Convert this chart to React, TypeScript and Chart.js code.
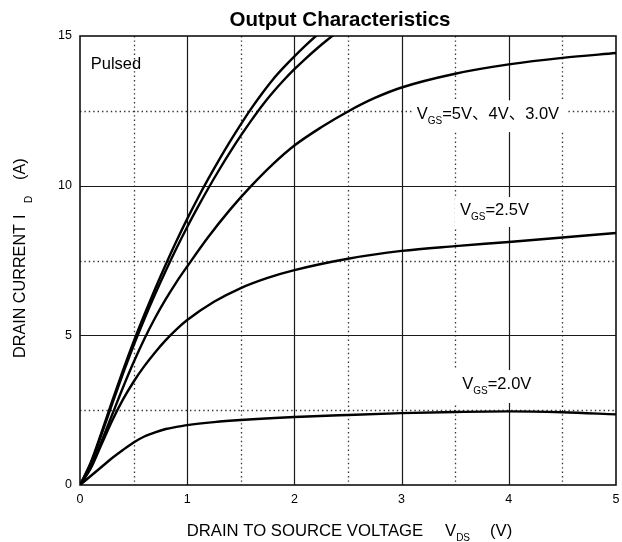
import { useEffect, useRef } from "react";
import { Chart, registerables } from "chart.js";

Chart.register(...registerables);

const FONT = "'Liberation Sans', Arial, 'Noto Sans CJK SC', sans-serif";

// VGS = 5V
const vds5V = [0, 0.1, 0.2, 0.3, 0.4, 0.5, 0.6, 0.7, 0.8, 0.9, 1.0, 1.1, 1.2, 1.3, 1.4, 1.5, 1.6, 1.7, 1.8, 1.9, 2.0, 2.1, 2.2, 2.3];
const id5V = [0, 0.75, 1.75, 2.8, 3.82, 4.79, 5.69, 6.55, 7.37, 8.15, 8.89, 9.59, 10.25, 10.88, 11.48, 12.05, 12.59, 13.09, 13.55, 13.95, 14.32, 14.67, 15.0, 15.31];
// VGS = 4V
const vds4V = [0, 0.1, 0.2, 0.3, 0.4, 0.5, 0.6, 0.7, 0.8, 0.9, 1.0, 1.1, 1.2, 1.3, 1.4, 1.5, 1.6, 1.7, 1.8, 1.9, 2.0, 2.1, 2.2, 2.3, 2.4];
const id4V = [0, 0.7, 1.68, 2.71, 3.71, 4.66, 5.54, 6.37, 7.16, 7.91, 8.62, 9.29, 9.93, 10.54, 11.12, 11.67, 12.19, 12.68, 13.12, 13.52, 13.89, 14.23, 14.55, 14.85, 15.13];
// VGS = 3.0V
const vds3V = [0, 0.1, 0.2, 0.3, 0.4, 0.5, 0.6, 0.7, 0.8, 0.9, 1.0, 1.2, 1.4, 1.6, 1.8, 2.0, 2.25, 2.5, 2.75, 3.0, 3.5, 4.0, 4.5, 5.0];
const id3V = [0, 0.6, 1.45, 2.35, 3.25, 4.1, 4.88, 5.58, 6.21, 6.78, 7.3, 8.3, 9.2, 10.0, 10.72, 11.34, 11.95, 12.48, 12.93, 13.28, 13.74, 14.05, 14.27, 14.43];
// VGS = 2.5V
const vds25V = [0, 0.1, 0.2, 0.3, 0.4, 0.5, 0.6, 0.7, 0.8, 0.9, 1.0, 1.25, 1.5, 1.75, 2.0, 2.5, 3.0, 3.5, 4.0, 4.5, 5.0];
const id25V = [0, 0.55, 1.35, 2.15, 2.85, 3.45, 3.97, 4.43, 4.84, 5.2, 5.51, 6.12, 6.58, 6.92, 7.18, 7.56, 7.82, 7.98, 8.12, 8.27, 8.42];
// VGS = 2.0V
const vds2V = [0, 0.1, 0.2, 0.3, 0.4, 0.5, 0.6, 0.7, 0.8, 0.9, 1.0, 1.25, 1.5, 2.0, 2.5, 3.0, 3.5, 4.0, 4.5, 5.0];
const id2V = [0, 0.3, 0.6, 0.9, 1.17, 1.42, 1.62, 1.76, 1.87, 1.94, 2.0, 2.1, 2.17, 2.27, 2.34, 2.4, 2.44, 2.46, 2.43, 2.36];

const xMajorGrid = [1, 2, 3, 4];
const xMinorGrid = [0.5, 1.5, 2.5, 3.5, 4.5];
const yMajorGrid = [5, 10];
const yMinorGrid = [2.5, 7.5, 12.5];

const TITLE = "Output Characteristics";
const NOTE = "Pulsed";

type Part = { t: string; sub?: boolean };

function drawRich(ctx: CanvasRenderingContext2D, x: number, y: number, parts: Part[], size: number, subSize: number, subDy: number) {
  let cx = x;
  ctx.textBaseline = "alphabetic";
  ctx.textAlign = "left";
  for (const p of parts) {
    if (p.sub) {
      ctx.font = `${subSize}px ${FONT}`;
      ctx.fillText(p.t, cx, y + subDy);
      cx += ctx.measureText(p.t).width;
    } else {
      ctx.font = `${size}px ${FONT}`;
      ctx.fillText(p.t, cx, y);
      cx += ctx.measureText(p.t).width;
    }
  }
}

const decor = {
  id: "decor",
  beforeDatasetsDraw(chart: any) {
    const { ctx, chartArea: a, scales } = chart;
    const xs = scales.x, ys = scales.y;
    ctx.save();
    // minor dotted grid
    ctx.strokeStyle = "#333";
    ctx.lineWidth = 1.3;
    ctx.setLineDash([1.4, 3]);
    ctx.beginPath();
    for (const v of xMinorGrid) {
      const px = Math.round(xs.getPixelForValue(v)) + 0.5;
      ctx.moveTo(px, a.top);
      ctx.lineTo(px, a.bottom);
    }
    for (const v of yMinorGrid) {
      const py = Math.round(ys.getPixelForValue(v)) + 0.5;
      ctx.moveTo(a.left, py);
      ctx.lineTo(a.right, py);
    }
    ctx.stroke();
    // major solid grid
    ctx.setLineDash([]);
    ctx.strokeStyle = "#1a1a1a";
    ctx.lineWidth = 1.2;
    ctx.beginPath();
    for (const v of xMajorGrid) {
      const px = Math.round(xs.getPixelForValue(v)) + 0.5;
      ctx.moveTo(px, a.top);
      ctx.lineTo(px, a.bottom);
    }
    for (const v of yMajorGrid) {
      const py = Math.round(ys.getPixelForValue(v)) + 0.5;
      ctx.moveTo(a.left, py);
      ctx.lineTo(a.right, py);
    }
    ctx.stroke();
    // frame
    ctx.strokeStyle = "#111";
    ctx.lineWidth = 1.6;
    ctx.strokeRect(a.left, a.top, a.right - a.left, a.bottom - a.top);
    ctx.restore();
  },
  afterDatasetsDraw(chart: any) {
    const { ctx, scales } = chart;
    const xs = scales.x, ys = scales.y;
    ctx.save();
    const labels: { box: number[]; at: number[]; parts: Part[] }[] = [
      { box: [3.097, 4.534, 12.85, 11.79], at: [3.141, 12.218], parts: [{ t: "V" }, { t: "GS", sub: true }, { t: "=5V、4V、3.0V" }] },
      { box: [3.498, 4.226, 9.62, 8.62], at: [3.545, 9.02], parts: [{ t: "V" }, { t: "GS", sub: true }, { t: "=2.5V" }] },
      { box: [3.48, 4.244, 3.84, 2.74], at: [3.566, 3.207], parts: [{ t: "V" }, { t: "GS", sub: true }, { t: "=2.0V" }] },
    ];
    for (const l of labels) {
      const x0 = xs.getPixelForValue(l.box[0]);
      const x1 = xs.getPixelForValue(l.box[1]);
      const y0 = ys.getPixelForValue(l.box[2]);
      const y1 = ys.getPixelForValue(l.box[3]);
      ctx.fillStyle = "#fff";
      ctx.fillRect(x0, y0, x1 - x0, y1 - y0);
      ctx.fillStyle = "#000";
      drawRich(ctx, xs.getPixelForValue(l.at[0]), ys.getPixelForValue(l.at[1]), l.parts, 16.5, 10, 4.7);
    }
    // Pulsed note
    ctx.fillStyle = "#000";
    ctx.font = `16.5px ${FONT}`;
    ctx.textAlign = "left";
    ctx.textBaseline = "alphabetic";
    ctx.fillText(NOTE, xs.getPixelForValue(0.1), ys.getPixelForValue(13.89));
    ctx.restore();
  },
  afterDraw(chart: any) {
    const { ctx } = chart;
    ctx.save();
    ctx.fillStyle = "#000";
    // title
    ctx.font = `bold 20.5px ${FONT}`;
    ctx.textAlign = "center";
    ctx.textBaseline = "alphabetic";
    ctx.fillText(TITLE, 340, 25.7);
    // x axis title
    drawRich(ctx, 186.7, 535.7, [{ t: "DRAIN TO SOURCE VOLTAGE" }], 16.7, 10, 5.3);
    drawRich(ctx, 445, 535.7, [{ t: "V" }, { t: "DS", sub: true }], 16.7, 10, 5.3);
    drawRich(ctx, 490, 535.7, [{ t: "(V)" }], 16.7, 10, 5.3);
    // y axis title (rotated)
    ctx.translate(25, 358);
    ctx.rotate(-Math.PI / 2);
    drawRich(ctx, 0, 0, [{ t: "DRAIN CURRENT" }], 16.2, 10, 6.5);
    drawRich(ctx, 139, 0, [{ t: "I" }], 16.2, 10, 6.5);
    drawRich(ctx, 155, 0, [{ t: "D", sub: true }], 16.2, 10, 6.5);
    drawRich(ctx, 178, 0, [{ t: "(A)" }], 16.2, 10, 6.5);
    ctx.restore();
  },
};

function series(xv: number[], yv: number[]) {
  return xv.map((x, i) => ({ x, y: yv[i] }));
}

export default function App() {
  const ref = useRef<HTMLCanvasElement | null>(null);
  useEffect(() => {
    if (!ref.current) return;
    const line = { borderColor: "#000", borderWidth: 2.4, pointRadius: 0, cubicInterpolationMode: "monotone" as const, fill: false };
    const chart = new Chart(ref.current, {
      type: "line",
      data: {
        datasets: [
          { label: "VGS=5V", data: series(vds5V, id5V), ...line },
          { label: "VGS=4V", data: series(vds4V, id4V), ...line },
          { label: "VGS=3.0V", data: series(vds3V, id3V), ...line },
          { label: "VGS=2.5V", data: series(vds25V, id25V), ...line },
          { label: "VGS=2.0V", data: series(vds2V, id2V), ...line },
        ],
      },
      options: {
        animation: false,
        responsive: true,
        maintainAspectRatio: false,
        layout: { padding: { top: 36, right: 6, left: 0, bottom: 0 } },
        plugins: { legend: { display: false }, tooltip: { enabled: false }, title: { display: false } },
        scales: {
          x: {
            type: "linear",
            min: 0,
            max: 5,
            grid: { display: false, drawTicks: false },
            border: { display: false },
            ticks: { stepSize: 1, color: "#000", padding: 7, font: { size: 12.5, family: FONT } },
            afterFit: (s: any) => { s.height = 57; s.paddingLeft = 0; s.paddingRight = 0; },
          },
          y: {
            type: "linear",
            min: 0,
            max: 15,
            grid: { display: false, drawTicks: false },
            border: { display: false },
            ticks: { stepSize: 5, color: "#000", padding: 8, font: { size: 12.5, family: FONT } },
            afterFit: (s: any) => { s.width = 80; s.paddingTop = 0; s.paddingBottom = 0; },
          },
        },
      },
      plugins: [decor],
    });
    return () => chart.destroy();
  }, []);
  return (
    <div style={{ position: "fixed", left: 0, top: 0, width: 622, height: 542, background: "#fff" }}>
      <canvas ref={ref} />
    </div>
  );
}
